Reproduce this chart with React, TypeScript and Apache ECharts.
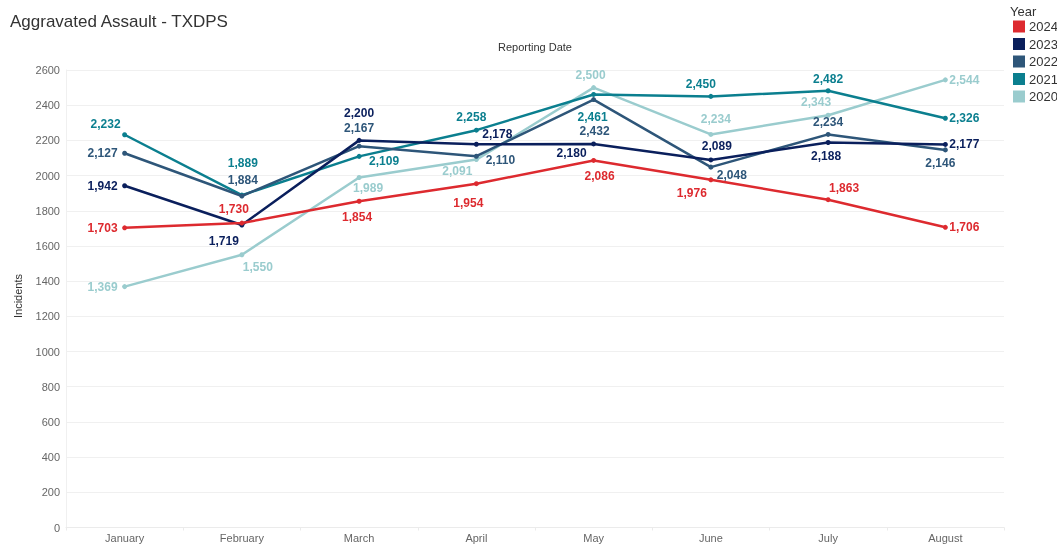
import React, { useEffect, useRef } from "react";
import * as echarts from "echarts";

const months = ["January", "February", "March", "April", "May", "June", "July", "August"];
const years = ["2024", "2023", "2022", "2021", "2020"];
const v2024 = [1703, 1730, 1854, 1954, 2086, 1976, 1863, 1706];
const v2023 = [1942, 1719, 2200, 2178, 2180, 2089, 2188, 2177];
const v2022 = [2127, 1884, 2167, 2110, 2432, 2048, 2234, 2146];
const v2021 = [2232, 1889, 2109, 2258, 2461, 2450, 2482, 2326];
const v2020 = [1369, 1550, 1989, 2091, 2500, 2234, 2343, 2544];

const seriesValues: Record<string, number[]> = {
  "2024": v2024,
  "2023": v2023,
  "2022": v2022,
  "2021": v2021,
  "2020": v2020,
};

const colors: Record<string, string> = {
  "2024": "#dd2a2f",
  "2023": "#0a1f5c",
  "2022": "#2e5679",
  "2021": "#0b7f8f",
  "2020": "#9accce",
};

// label offsets (style only): [dx, dy] from point centre
const labelOffsets: Record<string, number[][]> = {
  "2024": [[-22, 0], [-8, -14], [-2, 16], [-8, 19], [6, 16], [-19, 13], [16, -12], [19, 0]],
  "2023": [[-22, 0], [-18, 16], [0, -27], [21, -10], [-22, 9], [6, -14], [-2, 14], [19, 0]],
  "2022": [[-22, 0], [1, -16], [0, -18], [24, 4], [1, 31], [21, 8], [0, -12], [-5, 13]],
  "2021": [[-19, -11], [1, -32], [25, 5], [-5, -13], [-1, 23], [-10, -12], [0, -12], [19, 0]],
  "2020": [[-22, 0], [16, 12], [9, 10], [-19, 11], [-3, -13], [5, -15], [-12, -13], [19, 0]],
};

const FONT = "Arial, 'Liberation Sans', sans-serif";

function fmt(n: number) {
  return n.toLocaleString("en-US");
}

export default function App() {
  const ref = useRef<HTMLDivElement>(null);
  useEffect(() => {
    if (!ref.current) return;
    const chart = echarts.init(ref.current, undefined, { renderer: "svg" });
    const drawOrder = ["2020", "2021", "2022", "2023", "2024"];
    const series = drawOrder.map((y) => ({
      name: y,
      type: "line",
      z: 2 + drawOrder.indexOf(y),
      data: seriesValues[y].map((v, i) => ({
        value: v,
        label: {
          offset: labelOffsets[y][i],
        },
      })),
      symbol: "circle",
      symbolSize: 5,
      lineStyle: { width: 2.5, color: colors[y] },
      itemStyle: { color: colors[y] },
      label: {
        show: true,
        position: "inside",
        align: "center",
        verticalAlign: "middle",
        color: colors[y],
        fontWeight: "bold",
        fontSize: 12,
        fontFamily: FONT,
        formatter: (p: any) => fmt(p.value),
      },
      emphasis: { disabled: true },
    }));

    const legendItems: any[] = [];
    years.forEach((y, i) => {
      const cy = 26.5 + i * 17.5;
      legendItems.push({
        type: "rect",
        shape: { x: 1013, y: cy - 6, width: 12, height: 12 },
        style: { fill: colors[y] },
      });
      legendItems.push({
        type: "text",
        x: 1029,
        y: cy,
        style: {
          text: y,
          fontSize: 13,
          fill: "#333",
          fontFamily: FONT,
          align: "left",
          verticalAlign: "middle",
        },
      });
    });

    chart.setOption({
      animation: false,
      textStyle: { fontFamily: FONT },
      title: {
        text: "Aggravated Assault - TXDPS",
        left: 5,
        top: 8,
        textStyle: { fontSize: 17, fontWeight: "normal", color: "#333", fontFamily: FONT },
      },
      graphic: [
        {
          type: "text",
          x: 1010,
          y: 11,
          style: {
            text: "Year",
            fontSize: 13,
            fill: "#333",
            fontFamily: FONT,
            verticalAlign: "middle",
          },
        },
        ...legendItems,
        {
          type: "text",
          x: 535,
          y: 47,
          style: {
            text: "Reporting Date",
            fontSize: 11,
            fill: "#333",
            fontFamily: FONT,
            align: "center",
            verticalAlign: "middle",
          },
        },
        {
          type: "text",
          x: 18,
          y: 296,
          rotation: Math.PI / 2,
          style: {
            text: "Incidents",
            fontSize: 11,
            fill: "#333",
            fontFamily: FONT,
            align: "center",
            verticalAlign: "middle",
          },
        },
      ],
      grid: { left: 66, right: 53, top: 70, bottom: 20.5, containLabel: false },
      xAxis: {
        type: "category",
        data: months,
        boundaryGap: true,
        axisLine: { show: true, lineStyle: { color: "#ebebeb" } },
        axisTick: { show: true, lineStyle: { color: "#ebebeb" }, length: 3 },
        axisLabel: { color: "#666", fontSize: 11, margin: 5, fontFamily: FONT },
        splitLine: { show: false },
      },
      yAxis: {
        type: "value",
        min: 0,
        max: 2600,
        interval: 200,
        axisLine: { show: true, lineStyle: { color: "#f0f0f0" } },
        axisTick: { show: false },
        axisLabel: {
          color: "#666",
          fontSize: 11,
          margin: 6,
          fontFamily: FONT,
          formatter: (v: number) => String(v),
        },
        splitLine: { show: true, lineStyle: { color: "#f0f0f0", width: 1 } },
      },
      series,
    });
    return () => chart.dispose();
  }, []);
  return (
    <div
      ref={ref}
      style={{ position: "fixed", left: 0, top: 0, width: 1057, height: 548 }}
    />
  );
}
